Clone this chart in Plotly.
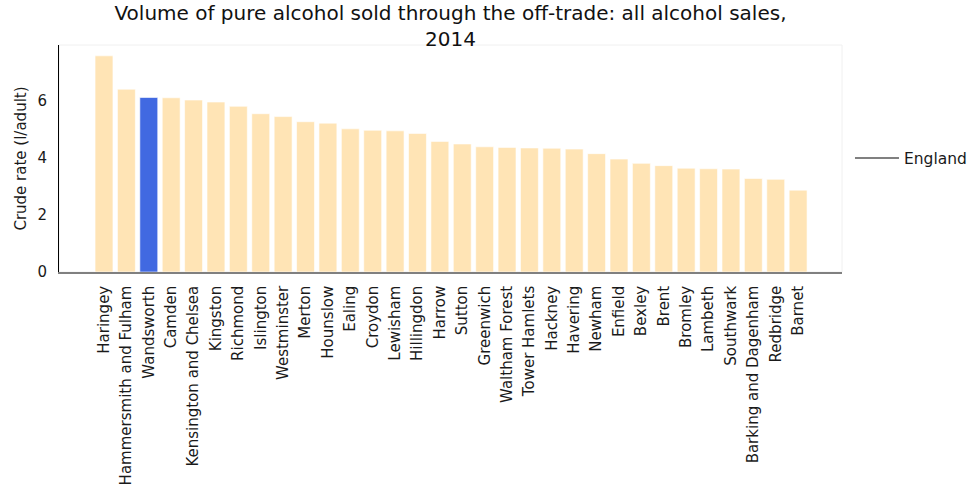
import plotly.graph_objects as go

boroughs = ["Haringey", "Hammersmith and Fulham", "Wandsworth", "Camden",
            "Kensington and Chelsea", "Kingston", "Richmond", "Islington",
            "Westminster", "Merton", "Hounslow", "Ealing", "Croydon", "Lewisham",
            "Hillingdon", "Harrow", "Sutton", "Greenwich", "Waltham Forest",
            "Tower Hamlets", "Hackney", "Havering", "Newham", "Enfield", "Bexley",
            "Brent", "Bromley", "Lambeth", "Southwark", "Barking and Dagenham",
            "Redbridge", "Barnet"]
rates = [7.58, 6.41, 6.12, 6.11, 6.03, 5.96, 5.81, 5.55, 5.45, 5.27, 5.22,
         5.02, 4.97, 4.95, 4.86, 4.58, 4.49, 4.39, 4.37, 4.35, 4.34, 4.31,
         4.15, 3.96, 3.81, 3.73, 3.64, 3.62, 3.61, 3.28, 3.25, 2.87]
england = 5.59
highlight = "Wandsworth"

FONT = "DejaVu Sans"
colors = ["#4169E1" if b == highlight else "#FFE4B5" for b in boroughs]

fig = go.Figure()
fig.add_trace(go.Bar(x=boroughs, y=rates, marker=dict(color=colors, line=dict(color="white", width=0.6)),
                     width=0.8, showlegend=False))
fig.add_hline(y=england, line=dict(color="#808080", width=2))
fig.add_trace(go.Scatter(x=[None], y=[None], mode="lines", name="England",
                         line=dict(color="#808080", width=2)))

fig.update_layout(
    width=978, height=491,
    margin=dict(l=59, r=136, t=45, b=219, autoexpand=False),
    paper_bgcolor="white", plot_bgcolor="white",
    font=dict(family=FONT, color="#1a1a1a"),
    title=dict(text="Volume of pure alcohol sold through the off-trade: all alcohol sales,<br>2014",
               x=0.5, xref="paper", xanchor="center", y=0.96, yref="container", yanchor="top",
               automargin=False,
               font=dict(size=20, family=FONT, color="#111111")),
    legend=dict(x=1.0102, xanchor="left", y=0.5, yanchor="middle", itemwidth=44,
                font=dict(size=15.5, family=FONT), bgcolor="rgba(0,0,0,0)"),
    bargap=0.2,
    shapes=[dict(type="rect", xref="paper", yref="paper", x0=0, x1=1, y0=0, y1=1,
                 line=dict(color="#f0f0f0", width=1), layer="below")],
)
fig.update_xaxes(range=[-2.01, 32.96], tickangle=-90, showline=True, linecolor="#808080",
                 linewidth=1.5, ticks="", showgrid=False, tickfont=dict(size=15, family=FONT),
                 ticklabelstandoff=6, automargin=False)
fig.update_yaxes(range=[0, 7.96], tickvals=[0, 2, 4, 6], showline=True, linecolor="#000000",
                 linewidth=1, ticks="", showgrid=False, zeroline=False,
                 tickfont=dict(size=15, family=FONT), ticklabelstandoff=8, automargin=False,
                 title=dict(text="Crude rate (l/adult)", font=dict(size=15, family=FONT), standoff=7))

fig.write_html("out.html", config={"displayModeBar": False},
               post_script="document.body.style.margin='0px';")
